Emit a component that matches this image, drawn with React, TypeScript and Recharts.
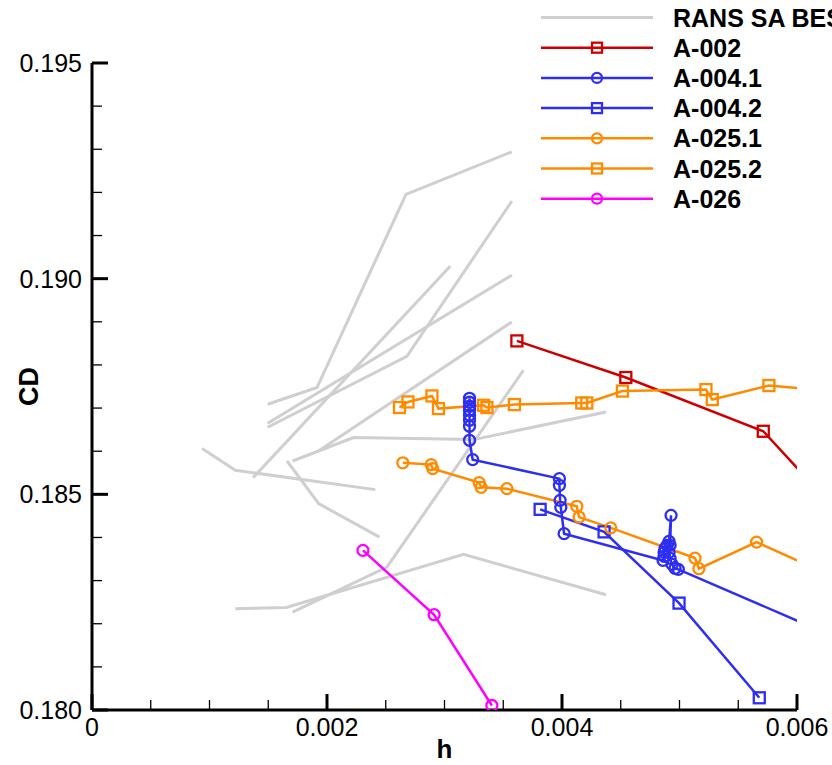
import React from 'react';
import { LineChart, Line, XAxis, YAxis, Legend } from 'recharts';

type Pt = { h: number; cd: number };
const pts = (a: number[][]): Pt[] => a.map(([h, cd]) => ({ h, cd }));

// Axis ticks
const xMajorTicks = [0, 0.002, 0.004, 0.006];
const xMinorTicks = [0.0005, 0.001, 0.0015, 0.0025, 0.003, 0.0035, 0.0045, 0.005, 0.0055];
const yMajorTicks = [0.18, 0.185, 0.19, 0.195];
const yMinorTicks = [0.181, 0.182, 0.183, 0.184, 0.186, 0.187, 0.188, 0.189, 0.191, 0.192, 0.193, 0.194];

// RANS SA reference curves (grey, no markers)
const rans1 = pts([[0.001495, 0.187088], [0.001915, 0.187476], [0.002672, 0.191954], [0.003573, 0.192942]]);
const rans2 = pts([[0.001495, 0.186555], [0.00268, 0.188202], [0.003573, 0.191798]]);
const rans3 = pts([[0.001495, 0.186647], [0.003573, 0.190081]]);
const rans4 = pts([[0.001371, 0.185387], [0.003048, 0.19029]]);
const rans5 = pts([[0.001915, 0.185981], [0.003573, 0.188998]]);
const rans6 = pts([[0.001707, 0.185773], [0.002226, 0.186316], [0.003247, 0.186269], [0.004375, 0.18691]]);
const rans7 = pts([[0.001707, 0.182269], [0.00251, 0.183313], [0.003672, 0.187877]]);
const rans8 = pts([[0.00166, 0.185773], [0.001929, 0.184784], [0.002447, 0.184009]]);
const rans9 = pts([[0.000937, 0.18606], [0.00122, 0.185557], [0.002411, 0.185109]]);
const rans10 = pts([[0.00122, 0.182348], [0.001654, 0.182378], [0.003162, 0.183608], [0.004375, 0.182673]]);
const ransCurves = [rans1, rans2, rans3, rans4, rans5, rans6, rans7, rans8, rans9, rans10];

// Participant series
const a002 = pts([[0.003616, 0.188557], [0.004543, 0.187708], [0.005713, 0.186462], [0.0065, 0.18414]]);
const a0041 = pts([
  [0.003213, 0.187227], [0.003213, 0.187135], [0.003213, 0.187042], [0.003213, 0.186949],
  [0.003213, 0.186833], [0.003213, 0.186717], [0.003213, 0.186578], [0.003213, 0.186253],
  [0.00324, 0.185805], [0.003978, 0.185364], [0.003978, 0.185209], [0.003984, 0.184861],
  [0.00399, 0.184698], [0.004018, 0.184088],
  [0.00486, 0.183469], [0.004869, 0.183562], [0.004869, 0.183654], [0.004877, 0.183747],
  [0.004894, 0.183817], [0.004911, 0.183910], [0.004928, 0.184513], [0.00492, 0.183817],
  [0.004911, 0.183654], [0.00492, 0.183515], [0.004937, 0.183376], [0.004962, 0.183283],
  [0.00499, 0.18326],
  [0.0065, 0.181485],
]);
const a0042 = pts([[0.003814, 0.184652], [0.004358, 0.18413], [0.004996, 0.182478], [0.005679, 0.180283]]);
const a0251 = pts([
  [0.002645, 0.185731], [0.002887, 0.185689], [0.0029, 0.185596], [0.003295, 0.185271],
  [0.003312, 0.185162], [0.003531, 0.185132], [0.004126, 0.184722], [0.004145, 0.184473],
  [0.004415, 0.184223], [0.005132, 0.183522], [0.005165, 0.183276], [0.005656, 0.183893],
  [0.0065, 0.182856],
]);
const a0252 = pts([
  [0.002617, 0.187012], [0.002689, 0.187142], [0.002893, 0.187281], [0.002949, 0.186988],
  [0.003332, 0.187065], [0.003361, 0.187012], [0.003595, 0.187081], [0.004168, 0.187118],
  [0.004211, 0.187118], [0.004514, 0.187394], [0.005225, 0.187429], [0.005279, 0.187197],
  [0.005761, 0.187522], [0.0065, 0.18735],
]);
const a026 = pts([[0.002306, 0.183701], [0.002912, 0.182209], [0.003403, 0.180104]]);

const GREY = '#cfcfcf';
const RED = '#cc0000';
const BLUE = '#2e2ef0';
const ORANGE = '#ff8a00';
const MAGENTA = '#ff00ff';

type Shape = 'circle' | 'square' | 'none';
const series: { name: string; color: string; shape: Shape; data: Pt[] }[] = [
  { name: 'A-002', color: RED, shape: 'square', data: a002 },
  { name: 'A-004.1', color: BLUE, shape: 'circle', data: a0041 },
  { name: 'A-004.2', color: BLUE, shape: 'square', data: a0042 },
  { name: 'A-025.1', color: ORANGE, shape: 'circle', data: a0251 },
  { name: 'A-025.2', color: ORANGE, shape: 'square', data: a0252 },
  { name: 'A-026', color: MAGENTA, shape: 'circle', data: a026 },
];

const FONT = '"Liberation Sans", Arial, Helvetica, sans-serif';

const Marker = ({ cx, cy, color, shape, s = 5.5 }: { cx: number; cy: number; color: string; shape: Shape; s?: number }) =>
  shape === 'circle' ? (
    <circle cx={cx} cy={cy} r={s} fill="none" stroke={color} strokeWidth={2.3} />
  ) : shape === 'square' ? (
    <rect x={cx - s} y={cy - s} width={2 * s} height={2 * s} fill="none" stroke={color} strokeWidth={2.3} />
  ) : null;

const makeDot = (color: string, shape: Shape) => (props: any) => {
  const { cx, cy, index } = props;
  if (cx == null || cy == null) return <g key={`d-${index}`} />;
  return (
    <g key={`d-${index}`}>
      <Marker cx={cx} cy={cy} color={color} shape={shape} />
    </g>
  );
};

const XTick = (props: any) => {
  const { x, y, payload } = props;
  const v = payload.value as number;
  const major = xMajorTicks.some((m) => Math.abs(m - v) < 1e-9);
  return (
    <g>
      <line x1={x} y1={y} x2={x} y2={y - (major ? 16 : 10)} stroke="#000" strokeWidth={major ? 3 : 1.3} />
      {major && (
        <text x={x} y={y + 26} textAnchor="middle" fontFamily={FONT} fontSize={25} fill="#000">
          {v === 0 ? '0' : v.toFixed(3)}
        </text>
      )}
    </g>
  );
};

const YTick = (props: any) => {
  const { x, y, payload } = props;
  const v = payload.value as number;
  const major = yMajorTicks.some((m) => Math.abs(m - v) < 1e-9);
  return (
    <g>
      <line x1={x} y1={y} x2={x + (major ? 16 : 10)} y2={y} stroke="#000" strokeWidth={major ? 3 : 1.3} />
      {major && (
        <text x={x - 10} y={y} dy="0.36em" textAnchor="end" fontFamily={FONT} fontSize={25} fill="#000">
          {v.toFixed(3)}
        </text>
      )}
    </g>
  );
};

const legendRows: { name: string; color: string; shape: Shape }[] = [
  { name: 'RANS SA BEST PRACTICE', color: GREY, shape: 'none' },
  ...series.map((s) => ({ name: s.name, color: s.color, shape: s.shape })),
];

const LegendContent = () => (
  <svg width={832} height={215} style={{ display: 'block', overflow: 'hidden' }}>
    {legendRows.map((r, i) => {
      const cy = 17.5 + i * 30.2;
      return (
        <g key={r.name}>
          <line x1={541} y1={cy} x2={653} y2={cy} stroke={r.color} strokeWidth={r.shape === 'none' ? 3 : 2.5} />
          <Marker cx={597} cy={cy} color={r.color} shape={r.shape} s={5} />
          <text x={673} y={cy} dy="0.36em" fontFamily={FONT} fontWeight="bold" fontSize={25} fill="#000">
            {r.name}
          </text>
        </g>
      );
    })}
  </svg>
);

export default function App() {
  const allX = [...xMajorTicks, ...xMinorTicks].sort((a, b) => a - b);
  const allY = [...yMajorTicks, ...yMinorTicks].sort((a, b) => a - b);
  return (
    <div style={{ position: 'absolute', left: 0, top: 0, width: 832, height: 765, background: '#fff', overflow: 'hidden' }}>
      <LineChart width={832} height={765} margin={{ top: 63, right: 35, bottom: 25, left: 0 }}>
        <XAxis
          dataKey="h"
          type="number"
          domain={[0, 0.006]}
          allowDataOverflow
          ticks={allX}
          interval={0}
          tick={<XTick />}
          tickLine={false}
          tickSize={0}
          tickMargin={0}
          height={30}
          axisLine={{ stroke: '#000', strokeWidth: 3 }}
          label={{
            content: (p: any) => {
              const vb = p.viewBox || { x: 92, width: 705 };
              return (
                <text x={vb.x + vb.width / 2} y={758} textAnchor="middle" fontFamily={FONT} fontWeight="bold" fontSize={26} fill="#000">
                  h
                </text>
              );
            },
          }}
        />
        <YAxis
          type="number"
          domain={[0.18, 0.195]}
          allowDataOverflow
          ticks={allY}
          interval={0}
          tick={<YTick />}
          tickLine={false}
          tickSize={0}
          tickMargin={0}
          width={92}
          axisLine={{ stroke: '#000', strokeWidth: 3 }}
          label={{
            content: (p: any) => {
              const vb = p.viewBox || { y: 63, height: 647 };
              const cy = vb.y + vb.height / 2;
              return (
                <text x={38} y={cy} transform={`rotate(-90, 38, ${cy})`} textAnchor="middle" fontFamily={FONT} fontWeight="bold" fontSize={27} fill="#000">
                  CD
                </text>
              );
            },
          }}
        />
        <Legend
          layout="horizontal"
          align="center"
          verticalAlign="middle"
          content={<LegendContent />}
          wrapperStyle={{ position: 'absolute', left: 0, top: 0, width: 832, height: 215, pointerEvents: 'none' }}
        />
        {ransCurves.map((d, i) => (
          <Line
            key={`rans-${i}`}
            data={d}
            dataKey="cd"
            type="linear"
            stroke={GREY}
            strokeWidth={3}
            dot={false}
            activeDot={false}
            isAnimationActive={false}
            legendType="none"
          />
        ))}
        {series.map((s) => (
          <Line
            key={s.name}
            name={s.name}
            data={s.data}
            dataKey="cd"
            type="linear"
            stroke={s.color}
            strokeWidth={2.5}
            dot={makeDot(s.color, s.shape)}
            activeDot={false}
            isAnimationActive={false}
          />
        ))}
      </LineChart>
    </div>
  );
}
